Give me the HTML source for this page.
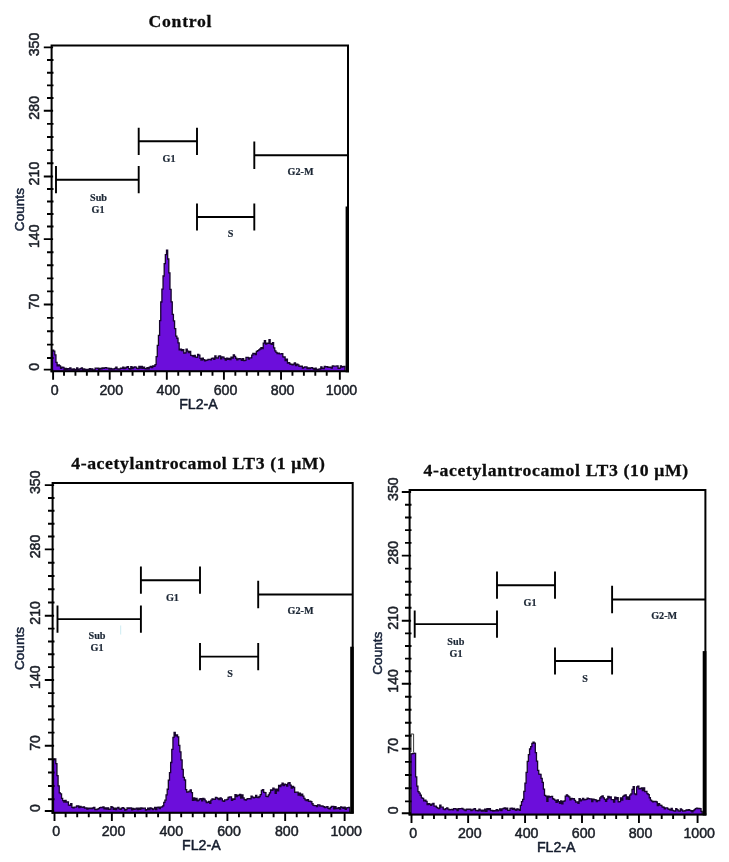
<!DOCTYPE html>
<html lang="en">
<head>
<meta charset="utf-8">
<title>Cell cycle histograms</title>
<style>
html,body{margin:0;padding:0;background:#fff;}
body{width:729px;height:862px;overflow:hidden;font-family:"Liberation Sans",sans-serif;}
svg{display:block;}
</style>
</head>
<body>
<svg width="729" height="862" viewBox="0 0 729 862" role="img" aria-label="Cell cycle histograms">
<defs><filter id="soft" x="0" y="0" width="100%" height="100%" filterUnits="objectBoundingBox" color-interpolation-filters="sRGB"><feGaussianBlur stdDeviation="0.45"/></filter></defs>
<rect width="729" height="862" fill="#fff"/>
<g filter="url(#soft)">
<rect width="729" height="862" fill="#fff"/>
<g id="p1">
<path d="M52.5 371.3L52.5 350.24L53.65 350.24L53.65 351.12L54.8 351.12L54.8 354.95L55.95 354.95L55.95 362.42L57.11 362.42L57.11 365.73L58.26 365.73L58.26 365.01L59.41 365.01L59.41 365.87L60.56 365.87L60.56 368.36L61.71 368.36L61.71 367.13L62.86 367.13L62.86 367.36L64.02 367.36L64.02 369.52L65.17 369.52L65.17 368.37L66.32 368.37L66.32 369.32L67.47 369.32L67.47 368.53L68.62 368.53L68.62 368.98L69.77 368.98L69.77 367.9L70.93 367.9L70.93 369.1L72.08 369.1L72.08 369.71L73.23 369.71L73.23 368.98L74.38 368.98L74.38 369.55L75.53 369.55L75.53 369.39L76.68 369.39L76.68 368.01L77.83 368.01L77.83 369.59L78.99 369.59L78.99 369.21L80.14 369.21L80.14 368.55L81.29 368.55L81.29 367.93L82.44 367.93L82.44 369.83L83.59 369.83L83.59 368.94L84.74 368.94L84.74 369.5L85.9 369.5L85.9 369.86L87.05 369.86L87.05 369.49L88.2 369.49L88.2 369.96L89.35 369.96L89.35 368.76L90.5 368.76L90.5 369.68L91.65 369.68L91.65 368.87L92.81 368.87L92.81 369.99L93.96 369.99L93.96 369.86L95.11 369.86L95.11 368.08L96.26 368.08L96.26 368.17L97.41 368.17L97.41 368.24L98.56 368.24L98.56 369.85L99.71 369.85L99.71 368.48L100.87 368.48L100.87 368.81L102.02 368.81L102.02 367.89L103.17 367.89L103.17 368.27L104.32 368.27L104.32 367.84L105.47 367.84L105.47 367.62L106.62 367.62L106.62 368.2L107.78 368.2L107.78 368.19L108.93 368.19L108.93 368.99L110.08 368.99L110.08 368.42L111.23 368.42L111.23 369.04L112.38 369.04L112.38 368.84L113.53 368.84L113.53 369.17L114.69 369.17L114.69 368.35L115.84 368.35L115.84 367.05L116.99 367.05L116.99 368.81L118.14 368.81L118.14 369.07L119.29 369.07L119.29 368.91L120.44 368.91L120.44 368.04L121.59 368.04L121.59 368.4L122.75 368.4L122.75 367.1L123.9 367.1L123.9 368.68L125.05 368.68L125.05 368.01L126.2 368.01L126.2 367.26L127.35 367.26L127.35 366.68L128.5 366.68L128.5 368.7L129.66 368.7L129.66 369.04L130.81 369.04L130.81 366.71L131.96 366.71L131.96 368.53L133.11 368.53L133.11 367.52L134.26 367.52L134.26 366.83L135.41 366.83L135.41 367.19L136.56 367.19L136.56 368.41L137.72 368.41L137.72 368.67L138.87 368.67L138.87 366.51L140.02 366.51L140.02 367.98L141.17 367.98L141.17 366.49L142.32 366.49L142.32 368.23L143.47 368.23L143.47 367.21L144.63 367.21L144.63 368.64L145.78 368.64L145.78 368.89L146.93 368.89L146.93 367.64L148.08 367.64L148.08 368.91L149.23 368.91L149.23 367.1L150.38 367.1L150.38 366.37L151.54 366.37L151.54 367.63L152.69 367.63L152.69 365.97L153.84 365.97L153.84 366.28L154.99 366.28L154.99 364.66L156.14 364.66L156.14 356.54L157.29 356.54L157.29 345.42L158.44 345.42L158.44 335.47L159.6 335.47L159.6 320.58L160.75 320.58L160.75 302.02L161.9 302.02L161.9 289.12L163.05 289.12L163.05 275.99L164.2 275.99L164.2 263.62L165.35 263.62L165.35 254.67L166.51 254.67L166.51 250.18L167.66 250.18L167.66 259.01L168.81 259.01L168.81 272.78L169.96 272.78L169.96 289.31L171.11 289.31L171.11 301.83L172.26 301.83L172.26 314.43L173.42 314.43L173.42 320.9L174.57 320.9L174.57 328.59L175.72 328.59L175.72 336.06L176.87 336.06L176.87 338.24L178.02 338.24L178.02 342.95L179.17 342.95L179.17 349.89L180.32 349.89L180.32 349.06L181.48 349.06L181.48 350.68L182.63 350.68L182.63 349.65L183.78 349.65L183.78 353.06L184.93 353.06L184.93 352.86L186.08 352.86L186.08 349.17L187.23 349.17L187.23 351.19L188.39 351.19L188.39 352.65L189.54 352.65L189.54 351.42L190.69 351.42L190.69 355.37L191.84 355.37L191.84 355.6L192.99 355.6L192.99 356.66L194.14 356.66L194.14 355.4L195.3 355.4L195.3 357.05L196.45 357.05L196.45 357.32L197.6 357.32L197.6 354.42L198.75 354.42L198.75 355.1L199.9 355.1L199.9 358.36L201.05 358.36L201.05 360.21L202.2 360.21L202.2 358.06L203.36 358.06L203.36 359.57L204.51 359.57L204.51 360.79L205.66 360.79L205.66 360.26L206.81 360.26L206.81 360.04L207.96 360.04L207.96 359.47L209.11 359.47L209.11 359.3L210.27 359.3L210.27 359.81L211.42 359.81L211.42 358.28L212.57 358.28L212.57 358.2L213.72 358.2L213.72 359.42L214.87 359.42L214.87 356.02L216.02 356.02L216.02 357.86L217.18 357.86L217.18 358.18L218.33 358.18L218.33 356.03L219.48 356.03L219.48 356.02L220.63 356.02L220.63 358.83L221.78 358.83L221.78 356.93L222.93 356.93L222.93 357.15L224.08 357.15L224.08 358.56L225.24 358.56L225.24 360L226.39 360L226.39 358.09L227.54 358.09L227.54 359.23L228.69 359.23L228.69 358.41L229.84 358.41L229.84 359.56L230.99 359.56L230.99 357.1L232.15 357.1L232.15 358.01L233.3 358.01L233.3 354.87L234.45 354.87L234.45 356.28L235.6 356.28L235.6 358.26L236.75 358.26L236.75 359.88L237.9 359.88L237.9 358.81L239.06 358.81L239.06 358.63L240.21 358.63L240.21 358.94L241.36 358.94L241.36 360.31L242.51 360.31L242.51 358.64L243.66 358.64L243.66 360.66L244.81 360.66L244.81 360.43L245.96 360.43L245.96 357.47L247.12 357.47L247.12 357.46L248.27 357.46L248.27 359.22L249.42 359.22L249.42 357.85L250.57 357.85L250.57 357.84L251.72 357.84L251.72 355.17L252.87 355.17L252.87 353.5L254.03 353.5L254.03 353.41L255.18 353.41L255.18 354.69L256.33 354.69L256.33 351.29L257.48 351.29L257.48 350.63L258.63 350.63L258.63 349.97L259.78 349.97L259.78 348.98L260.94 348.98L260.94 347.57L262.09 347.57L262.09 348.64L263.24 348.64L263.24 343.06L264.39 343.06L264.39 340.62L265.54 340.62L265.54 344.22L266.69 344.22L266.69 343.19L267.84 343.19L267.84 343.29L269 343.29L269 339.64L270.15 339.64L270.15 343.57L271.3 343.57L271.3 344.47L272.45 344.47L272.45 342.6L273.6 342.6L273.6 347.9L274.75 347.9L274.75 350.83L275.91 350.83L275.91 352.47L277.06 352.47L277.06 353.72L278.21 353.72L278.21 353.15L279.36 353.15L279.36 353.85L280.51 353.85L280.51 353.82L281.66 353.82L281.66 353.6L282.81 353.6L282.81 356.81L283.97 356.81L283.97 357.01L285.12 357.01L285.12 360.53L286.27 360.53L286.27 359.06L287.42 359.06L287.42 363L288.57 363L288.57 362.71L289.72 362.71L289.72 363.98L290.88 363.98L290.88 364.34L292.03 364.34L292.03 364.81L293.18 364.81L293.18 364.21L294.33 364.21L294.33 362.88L295.48 362.88L295.48 365.68L296.63 365.68L296.63 364.23L297.79 364.23L297.79 364.95L298.94 364.95L298.94 366.35L300.09 366.35L300.09 366.26L301.24 366.26L301.24 366.26L302.39 366.26L302.39 368.04L303.54 368.04L303.54 367.44L304.69 367.44L304.69 366.96L305.85 366.96L305.85 366.88L307 366.88L307 368.63L308.15 368.63L308.15 367.79L309.3 367.79L309.3 368.72L310.45 368.72L310.45 367.79L311.6 367.79L311.6 367.58L312.76 367.58L312.76 368.56L313.91 368.56L313.91 369.39L315.06 369.39L315.06 368.03L316.21 368.03L316.21 369.35L317.36 369.35L317.36 369.53L318.51 369.53L318.51 369.11L319.67 369.11L319.67 369.02L320.82 369.02L320.82 366.84L321.97 366.84L321.97 368.26L323.12 368.26L323.12 368.72L324.27 368.72L324.27 366.46L325.42 366.46L325.42 366.89L326.57 366.89L326.57 366.77L327.73 366.77L327.73 367.44L328.88 367.44L328.88 367.13L330.03 367.13L330.03 367.24L331.18 367.24L331.18 368.03L332.33 368.03L332.33 365.93L333.48 365.93L333.48 366.04L334.64 366.04L334.64 366.21L335.79 366.21L335.79 366.17L336.94 366.17L336.94 365.99L338.09 365.99L338.09 368.43L339.24 368.43L339.24 368.08L340.39 368.08L340.39 365.96L341.55 365.96L341.55 367.07L342.7 367.07L342.7 366.53L343.85 366.53L343.85 366.5L345 366.5L345 371.3Z" fill="#6c0edb" stroke="#16052c" stroke-width="1.3" stroke-linejoin="miter"/>
<g stroke="#000" fill="none" stroke-width="2" stroke-linecap="butt">
<path d="M51.6 372.3V45.6H348V371.3"/>
<path d="M50.6 371.3H349"/>
</g>
<rect x="345.6" y="206.5" width="3.4" height="165.8" fill="#000"/>
<path d="M43.8 47.4H53.1M43.8 110.7H53.1M43.8 176.45H53.1M43.8 239.1H53.1M43.8 304.5H53.1M43.8 369.6H53.1M47 60.06H53.5M47 72.72H53.5M47 85.38H53.5M47 98.04H53.5M47 123.85H53.5M47 137H53.5M47 150.15H53.5M47 163.3H53.5M47 188.98H53.5M47 201.51H53.5M47 214.04H53.5M47 226.57H53.5M47 252.18H53.5M47 265.26H53.5M47 278.34H53.5M47 291.42H53.5M47 317.86H53.5M47 331.22H53.5M47 344.58H53.5M47 357.94H53.5" stroke="#000" stroke-width="1.9" fill="none"/>
<path d="M53.1 371.3V379.7M64.02 371.3V375.8M75.44 371.3V375.8M86.86 371.3V375.8M98.29 371.3V375.8M109.71 371.3V379.7M121.13 371.3V375.8M132.55 371.3V375.8M143.97 371.3V375.8M155.39 371.3V375.8M166.82 371.3V379.7M178.24 371.3V375.8M189.66 371.3V375.8M201.08 371.3V375.8M212.5 371.3V375.8M223.92 371.3V379.7M235.35 371.3V375.8M246.77 371.3V375.8M258.19 371.3V375.8M269.61 371.3V375.8M281.03 371.3V379.7M292.45 371.3V375.8M303.88 371.3V375.8M315.3 371.3V375.8M326.72 371.3V375.8M339.84 371.3V379.7" stroke="#000" stroke-width="1.9" fill="none"/>
<path d="M56 179.7H138.7M56 166.1V193.3M138.7 166.1V193.3M138.7 141.3H197M138.7 127.7V154.9M197 127.7V154.9M197 217H254.3M197 203.4V230.6M254.3 203.4V230.6M253.5 155.3H348M254.3 141.5V169.1" stroke="#000" stroke-width="1.9" fill="none"/>
<g font-family="'Liberation Serif', serif" font-weight="bold" font-size="10.2" fill="#1b2634" stroke="#1b2634" stroke-width="0.2" text-anchor="middle">
<text x="98.5" y="201">Sub</text>
<text x="98" y="212.5">G1</text>
<text x="169" y="162">G1</text>
<text x="230.5" y="236.6">S</text>
<text x="300.6" y="175.2">G2-M</text>
</g>
<g font-family="'Liberation Sans', sans-serif" font-size="14.2" fill="#1b1f27" stroke="#1b1f27" stroke-width="0.5" stroke-linejoin="round" text-anchor="middle">
<text x="54.7" y="395.1">0</text>
<text x="111.31" y="395.1">200</text>
<text x="168.42" y="395.1">400</text>
<text x="225.52" y="395.1">600</text>
<text x="282.63" y="395.1">800</text>
<text x="341.44" y="395.1">1000</text>
<text x="198.5" y="408.6" font-size="14.2" fill="#151d2e" stroke="#151d2e">FL2-A</text>
<text transform="translate(39.3 44.5) rotate(-90)">350</text>
<text transform="translate(39.3 107.8) rotate(-90)">280</text>
<text transform="translate(39.3 173.55) rotate(-90)">210</text>
<text transform="translate(39.3 236.2) rotate(-90)">140</text>
<text transform="translate(39.3 301.6) rotate(-90)">70</text>
<text transform="translate(39.3 366.7) rotate(-90)">0</text>
<text transform="translate(23.9 209.6) rotate(-90)" font-size="13.6" fill="#172238" stroke="#172238">Counts</text>
</g>
<text x="148.5" y="26.6" font-family="'Liberation Serif', serif" font-weight="bold" font-size="17.7" fill="#0c0c0c" stroke="#0c0c0c" stroke-width="0.3" textLength="63" lengthAdjust="spacing">Control</text>
</g>
<g id="p2">
<path d="M53.5 812.7L53.5 759.54L54.65 759.54L54.65 758.88L55.8 758.88L55.8 763.65L56.95 763.65L56.95 775.6L58.09 775.6L58.09 785.83L59.24 785.83L59.24 792.78L60.39 792.78L60.39 793.97L61.54 793.97L61.54 798.47L62.69 798.47L62.69 800.71L63.84 800.71L63.84 802.19L64.98 802.19L64.98 800.39L66.13 800.39L66.13 802.06L67.28 802.06L67.28 801.98L68.43 801.98L68.43 805.09L69.58 805.09L69.58 805.26L70.73 805.26L70.73 803.67L71.88 803.67L71.88 807.32L73.02 807.32L73.02 807.77L74.17 807.77L74.17 807.03L75.32 807.03L75.32 807.14L76.47 807.14L76.47 806L77.62 806L77.62 805.82L78.77 805.82L78.77 807.58L79.91 807.58L79.91 806.46L81.06 806.46L81.06 807.09L82.21 807.09L82.21 807.38L83.36 807.38L83.36 806.78L84.51 806.78L84.51 808L85.66 808L85.66 807.93L86.81 807.93L86.81 809.06L87.95 809.06L87.95 808.15L89.1 808.15L89.1 808.49L90.25 808.49L90.25 808.1L91.4 808.1L91.4 808.56L92.55 808.56L92.55 807.98L93.7 807.98L93.7 807.48L94.84 807.48L94.84 809.49L95.99 809.49L95.99 809.49L97.14 809.49L97.14 809.05L98.29 809.05L98.29 808.68L99.44 808.68L99.44 807.58L100.59 807.58L100.59 807.34L101.73 807.34L101.73 807.51L102.88 807.51L102.88 806.9L104.03 806.9L104.03 808.85L105.18 808.85L105.18 807.82L106.33 807.82L106.33 809.07L107.48 809.07L107.48 807.78L108.63 807.78L108.63 809.38L109.77 809.38L109.77 809.07L110.92 809.07L110.92 806.74L112.07 806.74L112.07 807.38L113.22 807.38L113.22 809.39L114.37 809.39L114.37 808.22L115.52 808.22L115.52 809.69L116.66 809.69L116.66 808.14L117.81 808.14L117.81 807.32L118.96 807.32L118.96 808.89L120.11 808.89L120.11 809.35L121.26 809.35L121.26 808.03L122.41 808.03L122.41 807.6L123.56 807.6L123.56 808.32L124.7 808.32L124.7 810.06L125.85 810.06L125.85 809.56L127 809.56L127 807.93L128.15 807.93L128.15 808.33L129.3 808.33L129.3 808.01L130.45 808.01L130.45 807.97L131.59 807.97L131.59 809.93L132.74 809.93L132.74 808.35L133.89 808.35L133.89 809.3L135.04 809.3L135.04 808.97L136.19 808.97L136.19 808.27L137.34 808.27L137.34 809.64L138.49 809.64L138.49 808.03L139.63 808.03L139.63 809.34L140.78 809.34L140.78 807.92L141.93 807.92L141.93 808.68L143.08 808.68L143.08 808.09L144.23 808.09L144.23 808.21L145.38 808.21L145.38 810.03L146.52 810.03L146.52 809.55L147.67 809.55L147.67 808.18L148.82 808.18L148.82 809.7L149.97 809.7L149.97 807.85L151.12 807.85L151.12 808.31L152.27 808.31L152.27 809.52L153.42 809.52L153.42 808.91L154.56 808.91L154.56 807.34L155.71 807.34L155.71 809.62L156.86 809.62L156.86 807.28L158.01 807.28L158.01 807.23L159.16 807.23L159.16 808.52L160.31 808.52L160.31 807.07L161.45 807.07L161.45 806.79L162.6 806.79L162.6 805.95L163.75 805.95L163.75 802.3L164.9 802.3L164.9 800.2L166.05 800.2L166.05 794.86L167.2 794.86L167.2 789.24L168.34 789.24L168.34 780.09L169.49 780.09L169.49 772.58L170.64 772.58L170.64 762.51L171.79 762.51L171.79 749.33L172.94 749.33L172.94 737.45L174.09 737.45L174.09 732.38L175.24 732.38L175.24 735.88L176.38 735.88L176.38 734.89L177.53 734.89L177.53 736.8L178.68 736.8L178.68 745.42L179.83 745.42L179.83 751.86L180.98 751.86L180.98 759.88L182.13 759.88L182.13 769.45L183.27 769.45L183.27 777.32L184.42 777.32L184.42 780.02L185.57 780.02L185.57 789.71L186.72 789.71L186.72 792.02L187.87 792.02L187.87 791.88L189.02 791.88L189.02 791.18L190.17 791.18L190.17 789.84L191.31 789.84L191.31 792.56L192.46 792.56L192.46 800.31L193.61 800.31L193.61 797.97L194.76 797.97L194.76 800.05L195.91 800.05L195.91 798.39L197.06 798.39L197.06 800.86L198.2 800.86L198.2 800.08L199.35 800.08L199.35 798.99L200.5 798.99L200.5 798.65L201.65 798.65L201.65 800.96L202.8 800.96L202.8 798.5L203.95 798.5L203.95 799.27L205.1 799.27L205.1 800.95L206.24 800.95L206.24 802.62L207.39 802.62L207.39 802.24L208.54 802.24L208.54 801.43L209.69 801.43L209.69 803.3L210.84 803.3L210.84 800.06L211.99 800.06L211.99 798.79L213.13 798.79L213.13 799.24L214.28 799.24L214.28 799.41L215.43 799.41L215.43 797.41L216.58 797.41L216.58 797.92L217.73 797.92L217.73 798.74L218.88 798.74L218.88 799.6L220.03 799.6L220.03 797.85L221.17 797.85L221.17 798.82L222.32 798.82L222.32 800.96L223.47 800.96L223.47 801.24L224.62 801.24L224.62 799.85L225.77 799.85L225.77 799.91L226.92 799.91L226.92 799.39L228.06 799.39L228.06 797.48L229.21 797.48L229.21 796.97L230.36 796.97L230.36 796.81L231.51 796.81L231.51 800.42L232.66 800.42L232.66 799.02L233.81 799.02L233.81 799.43L234.96 799.43L234.96 794.63L236.1 794.63L236.1 796.6L237.25 796.6L237.25 795.19L238.4 795.19L238.4 795.6L239.55 795.6L239.55 794.28L240.7 794.28L240.7 798.18L241.85 798.18L241.85 794.98L242.99 794.98L242.99 797.89L244.14 797.89L244.14 799.55L245.29 799.55L245.29 800.08L246.44 800.08L246.44 799.06L247.59 799.06L247.59 798.59L248.74 798.59L248.74 798.63L249.88 798.63L249.88 798.83L251.03 798.83L251.03 796.04L252.18 796.04L252.18 797.16L253.33 797.16L253.33 797.78L254.48 797.78L254.48 797.37L255.63 797.37L255.63 795.46L256.78 795.46L256.78 797.23L257.92 797.23L257.92 797.67L259.07 797.67L259.07 796.5L260.22 796.5L260.22 794.54L261.37 794.54L261.37 790.51L262.52 790.51L262.52 789.57L263.67 789.57L263.67 792.37L264.81 792.37L264.81 792.61L265.96 792.61L265.96 796.31L267.11 796.31L267.11 796.63L268.26 796.63L268.26 794.82L269.41 794.82L269.41 792.8L270.56 792.8L270.56 789.81L271.71 789.81L271.71 790.23L272.85 790.23L272.85 788.12L274 788.12L274 789.11L275.15 789.11L275.15 793.31L276.3 793.31L276.3 789.22L277.45 789.22L277.45 790.82L278.6 790.82L278.6 785.42L279.74 785.42L279.74 786.7L280.89 786.7L280.89 784.82L282.04 784.82L282.04 783.22L283.19 783.22L283.19 785.53L284.34 785.53L284.34 784.2L285.49 784.2L285.49 784.61L286.64 784.61L286.64 786.06L287.78 786.06L287.78 783.09L288.93 783.09L288.93 782.66L290.08 782.66L290.08 785.11L291.23 785.11L291.23 787.98L292.38 787.98L292.38 786.5L293.53 786.5L293.53 787.49L294.67 787.49L294.67 792.31L295.82 792.31L295.82 792.2L296.97 792.2L296.97 792.22L298.12 792.22L298.12 795.12L299.27 795.12L299.27 793.25L300.42 793.25L300.42 795.58L301.57 795.58L301.57 794.25L302.71 794.25L302.71 796.07L303.86 796.07L303.86 798.47L305.01 798.47L305.01 799.8L306.16 799.8L306.16 800.59L307.31 800.59L307.31 799.53L308.46 799.53L308.46 801.28L309.6 801.28L309.6 801.23L310.75 801.23L310.75 801.56L311.9 801.56L311.9 803.74L313.05 803.74L313.05 805.29L314.2 805.29L314.2 805.68L315.35 805.68L315.35 805.57L316.49 805.57L316.49 806.71L317.64 806.71L317.64 804.87L318.79 804.87L318.79 804.91L319.94 804.91L319.94 806.17L321.09 806.17L321.09 806.01L322.24 806.01L322.24 806.08L323.39 806.08L323.39 806.77L324.53 806.77L324.53 807.5L325.68 807.5L325.68 807.2L326.83 807.2L326.83 806.76L327.98 806.76L327.98 808.4L329.13 808.4L329.13 808.9L330.28 808.9L330.28 807.45L331.42 807.45L331.42 806.45L332.57 806.45L332.57 806.43L333.72 806.43L333.72 808.92L334.87 808.92L334.87 806.64L336.02 806.64L336.02 808.58L337.17 808.58L337.17 808.26L338.32 808.26L338.32 807.58L339.46 807.58L339.46 808.99L340.61 808.99L340.61 806.91L341.76 806.91L341.76 807.3L342.91 807.3L342.91 808.24L344.06 808.24L344.06 807.12L345.21 807.12L345.21 809.38L346.35 809.38L346.35 807.83L347.5 807.83L347.5 807.64L348.65 807.64L348.65 807.45L349.8 807.45L349.8 812.7Z" fill="#6c0edb" stroke="#16052c" stroke-width="1.3" stroke-linejoin="miter"/>
<g stroke="#000" fill="none" stroke-width="2" stroke-linecap="butt">
<path d="M52.6 813.7V483.1H352.7V812.7"/>
<path d="M51.6 812.7H353.7"/>
</g>
<rect x="350.2" y="646.7" width="3.5" height="167" fill="#000"/>
<path d="M44.8 485.1H54.1M44.8 549.4H54.1M44.8 615.8H54.1M44.8 680H54.1M44.8 745.8H54.1M44.8 811H54.1M48 497.96H54.5M48 510.82H54.5M48 523.68H54.5M48 536.54H54.5M48 562.68H54.5M48 575.96H54.5M48 589.24H54.5M48 602.52H54.5M48 628.64H54.5M48 641.48H54.5M48 654.32H54.5M48 667.16H54.5M48 693.16H54.5M48 706.32H54.5M48 719.48H54.5M48 732.64H54.5M48 759.18H54.5M48 772.56H54.5M48 785.94H54.5M48 799.32H54.5" stroke="#000" stroke-width="1.9" fill="none"/>
<path d="M54.5 812.7V821.1M65.65 812.7V817.2M77.21 812.7V817.2M88.76 812.7V817.2M100.31 812.7V817.2M111.87 812.7V821.1M123.42 812.7V817.2M134.97 812.7V817.2M146.53 812.7V817.2M158.08 812.7V817.2M169.63 812.7V821.1M181.19 812.7V817.2M192.74 812.7V817.2M204.29 812.7V817.2M215.84 812.7V817.2M227.4 812.7V821.1M238.95 812.7V817.2M250.5 812.7V817.2M262.06 812.7V817.2M273.61 812.7V817.2M285.16 812.7V821.1M296.72 812.7V817.2M308.27 812.7V817.2M319.82 812.7V817.2M331.38 812.7V817.2M344.63 812.7V821.1" stroke="#000" stroke-width="1.9" fill="none"/>
<path d="M57.5 619.1H140.9M57.5 605.5V632.7M140.9 605.5V632.7M140.9 580.2H200M140.9 566.6V593.8M200 566.6V593.8M200 656.6H258.2M200 643V670.2M258.2 643V670.2M257.4 594.5H352.7M258.2 580.7V608.3" stroke="#000" stroke-width="1.9" fill="none"/>
<g font-family="'Liberation Serif', serif" font-weight="bold" font-size="10.2" fill="#1b2634" stroke="#1b2634" stroke-width="0.2" text-anchor="middle">
<text x="97" y="638.5">Sub</text>
<text x="97.1" y="650.6">G1</text>
<text x="172.4" y="601.3">G1</text>
<text x="230" y="676.6">S</text>
<text x="300.6" y="614.1">G2-M</text>
</g>
<g font-family="'Liberation Sans', sans-serif" font-size="14.2" fill="#1b1f27" stroke="#1b1f27" stroke-width="0.5" stroke-linejoin="round" text-anchor="middle">
<text x="56.1" y="836.1">0</text>
<text x="113.47" y="836.1">200</text>
<text x="171.23" y="836.1">400</text>
<text x="229" y="836.1">600</text>
<text x="286.76" y="836.1">800</text>
<text x="346.23" y="836.1">1000</text>
<text x="201.3" y="849.7" font-size="14.2" fill="#151d2e" stroke="#151d2e">FL2-A</text>
<text transform="translate(40.3 482.2) rotate(-90)">350</text>
<text transform="translate(40.3 546.5) rotate(-90)">280</text>
<text transform="translate(40.3 612.9) rotate(-90)">210</text>
<text transform="translate(40.3 677.1) rotate(-90)">140</text>
<text transform="translate(40.3 742.9) rotate(-90)">70</text>
<text transform="translate(40.3 808.1) rotate(-90)">0</text>
<text transform="translate(24.3 648.5) rotate(-90)" font-size="13.6" fill="#172238" stroke="#172238">Counts</text>
</g>
<text x="71.2" y="469" font-family="'Liberation Serif', serif" font-weight="bold" font-size="17.7" fill="#0c0c0c" stroke="#0c0c0c" stroke-width="0.3" textLength="253.8" lengthAdjust="spacing">4-acetylantrocamol LT3 (1 μM)</text>
</g>
<g id="p3">
<path d="M411 814.6L411 753.91L412.15 753.91L412.15 753.7L413.3 753.7L413.3 753.21L414.45 753.21L414.45 753.31L415.6 753.31L415.6 776.9L416.75 776.9L416.75 786.08L417.91 786.08L417.91 791.6L419.06 791.6L419.06 793.15L420.21 793.15L420.21 795.23L421.36 795.23L421.36 797.84L422.51 797.84L422.51 798.34L423.66 798.34L423.66 800.74L424.81 800.74L424.81 800.04L425.96 800.04L425.96 801.34L427.11 801.34L427.11 804.55L428.26 804.55L428.26 803.69L429.42 803.69L429.42 804.25L430.57 804.25L430.57 805.29L431.72 805.29L431.72 804.14L432.87 804.14L432.87 803.28L434.02 803.28L434.02 806.12L435.17 806.12L435.17 806.08L436.32 806.08L436.32 807.31L437.47 807.31L437.47 808.18L438.62 808.18L438.62 808.6L439.77 808.6L439.77 805.04L440.93 805.04L440.93 807.13L442.08 807.13L442.08 807.14L443.23 807.14L443.23 809.11L444.38 809.11L444.38 809.54L445.53 809.54L445.53 808.57L446.68 808.57L446.68 807.96L447.83 807.96L447.83 809.17L448.98 809.17L448.98 809.95L450.13 809.95L450.13 809.64L451.28 809.64L451.28 809.28L452.44 809.28L452.44 809.91L453.59 809.91L453.59 808.64L454.74 808.64L454.74 808.68L455.89 808.68L455.89 809.11L457.04 809.11L457.04 810.54L458.19 810.54L458.19 808.77L459.34 808.77L459.34 808.56L460.49 808.56L460.49 808.53L461.64 808.53L461.64 808.37L462.79 808.37L462.79 809.06L463.95 809.06L463.95 809.92L465.1 809.92L465.1 810.65L466.25 810.65L466.25 809.26L467.4 809.26L467.4 809.39L468.55 809.39L468.55 809.17L469.7 809.17L469.7 809.23L470.85 809.23L470.85 810.59L472 810.59L472 809.95L473.15 809.95L473.15 809.14L474.3 809.14L474.3 808.73L475.46 808.73L475.46 810.66L476.61 810.66L476.61 810.46L477.76 810.46L477.76 810.81L478.91 810.81L478.91 809.16L480.06 809.16L480.06 810.04L481.21 810.04L481.21 811.11L482.36 811.11L482.36 810.2L483.51 810.2L483.51 811.21L484.66 811.21L484.66 809.03L485.81 809.03L485.81 811.32L486.97 811.32L486.97 808.75L488.12 808.75L488.12 809.72L489.27 809.72L489.27 808.55L490.42 808.55L490.42 810.71L491.57 810.71L491.57 810.31L492.72 810.31L492.72 811.07L493.87 811.07L493.87 810.54L495.02 810.54L495.02 810.9L496.17 810.9L496.17 809.66L497.32 809.66L497.32 810.9L498.48 810.9L498.48 810.15L499.63 810.15L499.63 808.92L500.78 808.92L500.78 810.7L501.93 810.7L501.93 808.89L503.08 808.89L503.08 808.29L504.23 808.29L504.23 807.88L505.38 807.88L505.38 808.98L506.53 808.98L506.53 808.11L507.68 808.11L507.68 810.33L508.83 810.33L508.83 810.43L509.98 810.43L509.98 808.31L511.14 808.31L511.14 808.04L512.29 808.04L512.29 809.35L513.44 809.35L513.44 808.36L514.59 808.36L514.59 809.51L515.74 809.51L515.74 810.35L516.89 810.35L516.89 808.78L518.04 808.78L518.04 809.33L519.19 809.33L519.19 810.29L520.34 810.29L520.34 805.45L521.49 805.45L521.49 801.57L522.65 801.57L522.65 799.29L523.8 799.29L523.8 791.42L524.95 791.42L524.95 783.03L526.1 783.03L526.1 772.41L527.25 772.41L527.25 761.46L528.4 761.46L528.4 754.69L529.55 754.69L529.55 749.02L530.7 749.02L530.7 746.61L531.85 746.61L531.85 743.42L533 743.42L533 742.13L534.16 742.13L534.16 743.05L535.31 743.05L535.31 752.53L536.46 752.53L536.46 761.11L537.61 761.11L537.61 770.41L538.76 770.41L538.76 774.21L539.91 774.21L539.91 774.47L541.06 774.47L541.06 778.33L542.21 778.33L542.21 782.39L543.36 782.39L543.36 789.03L544.51 789.03L544.51 795.38L545.67 795.38L545.67 796.03L546.82 796.03L546.82 801.29L547.97 801.29L547.97 796.17L549.12 796.17L549.12 796.98L550.27 796.98L550.27 796.67L551.42 796.67L551.42 796.29L552.57 796.29L552.57 798.75L553.72 798.75L553.72 799.36L554.87 799.36L554.87 800.28L556.02 800.28L556.02 802.24L557.18 802.24L557.18 799.96L558.33 799.96L558.33 801.58L559.48 801.58L559.48 803.33L560.63 803.33L560.63 800.92L561.78 800.92L561.78 803.91L562.93 803.91L562.93 801.43L564.08 801.43L564.08 800.83L565.23 800.83L565.23 796.09L566.38 796.09L566.38 794.79L567.53 794.79L567.53 796L568.69 796L568.69 796.89L569.84 796.89L569.84 799.89L570.99 799.89L570.99 798.41L572.14 798.41L572.14 798.81L573.29 798.81L573.29 798.7L574.44 798.7L574.44 800.44L575.59 800.44L575.59 801.99L576.74 801.99L576.74 802L577.89 802L577.89 803.24L579.04 803.24L579.04 798.76L580.2 798.76L580.2 800.94L581.35 800.94L581.35 799.8L582.5 799.8L582.5 798.38L583.65 798.38L583.65 799.78L584.8 799.78L584.8 799.52L585.95 799.52L585.95 799.4L587.1 799.4L587.1 798.24L588.25 798.24L588.25 798.55L589.4 798.55L589.4 798.84L590.55 798.84L590.55 798.78L591.71 798.78L591.71 801.71L592.86 801.71L592.86 799.24L594.01 799.24L594.01 799.57L595.16 799.57L595.16 799.85L596.31 799.85L596.31 801.65L597.46 801.65L597.46 800.38L598.61 800.38L598.61 800.72L599.76 800.72L599.76 798.01L600.91 798.01L600.91 796.65L602.06 796.65L602.06 795.89L603.22 795.89L603.22 797.79L604.37 797.79L604.37 799.32L605.52 799.32L605.52 801.39L606.67 801.39L606.67 799.01L607.82 799.01L607.82 796.38L608.97 796.38L608.97 797.88L610.12 797.88L610.12 797.01L611.27 797.01L611.27 799.57L612.42 799.57L612.42 799.66L613.57 799.66L613.57 802.01L614.72 802.01L614.72 797.14L615.88 797.14L615.88 799.2L617.03 799.2L617.03 797.66L618.18 797.66L618.18 801.92L619.33 801.92L619.33 801.56L620.48 801.56L620.48 798.01L621.63 798.01L621.63 800.01L622.78 800.01L622.78 796.39L623.93 796.39L623.93 795.5L625.08 795.5L625.08 794.84L626.23 794.84L626.23 799.12L627.39 799.12L627.39 796.98L628.54 796.98L628.54 799.3L629.69 799.3L629.69 795.18L630.84 795.18L630.84 793.96L631.99 793.96L631.99 789.44L633.14 789.44L633.14 786.73L634.29 786.73L634.29 793.95L635.44 793.95L635.44 794.7L636.59 794.7L636.59 786.92L637.74 786.92L637.74 786.08L638.9 786.08L638.9 788.73L640.05 788.73L640.05 788.59L641.2 788.59L641.2 788.02L642.35 788.02L642.35 790.68L643.5 790.68L643.5 787.87L644.65 787.87L644.65 791.52L645.8 791.52L645.8 791.32L646.95 791.32L646.95 793.66L648.1 793.66L648.1 794.58L649.25 794.58L649.25 797.75L650.41 797.75L650.41 800.18L651.56 800.18L651.56 801.17L652.71 801.17L652.71 801.81L653.86 801.81L653.86 801.45L655.01 801.45L655.01 801.41L656.16 801.41L656.16 801.99L657.31 801.99L657.31 805.55L658.46 805.55L658.46 803.75L659.61 803.75L659.61 805.13L660.76 805.13L660.76 805.33L661.92 805.33L661.92 806.95L663.07 806.95L663.07 807.23L664.22 807.23L664.22 808.85L665.37 808.85L665.37 807.89L666.52 807.89L666.52 807.85L667.67 807.85L667.67 808.93L668.82 808.93L668.82 809.4L669.97 809.4L669.97 810.12L671.12 810.12L671.12 808.46L672.27 808.46L672.27 810.35L673.43 810.35L673.43 810.8L674.58 810.8L674.58 810.98L675.73 810.98L675.73 808.72L676.88 808.72L676.88 809.62L678.03 809.62L678.03 810.83L679.18 810.83L679.18 811.06L680.33 811.06L680.33 808.95L681.48 808.95L681.48 810.01L682.63 810.01L682.63 810.99L683.78 810.99L683.78 811.15L684.94 811.15L684.94 810.63L686.09 810.63L686.09 809.83L687.24 809.83L687.24 810.44L688.39 810.44L688.39 809.6L689.54 809.6L689.54 810.36L690.69 810.36L690.69 810.73L691.84 810.73L691.84 811.83L692.99 811.83L692.99 810.67L694.14 810.67L694.14 809.62L695.29 809.62L695.29 808.55L696.45 808.55L696.45 808.17L697.6 808.17L697.6 808.7L698.75 808.7L698.75 808.5L699.9 808.5L699.9 808.66L701.05 808.66L701.05 811.4L702.2 811.4L702.2 814.6Z" fill="#6c0edb" stroke="#16052c" stroke-width="1.3" stroke-linejoin="miter"/>
<path d="M411 752V734H413.6V752" fill="none" stroke="#3a3a3a" stroke-width="1"/>
<g stroke="#000" fill="none" stroke-width="2" stroke-linecap="butt">
<path d="M409.6 815.6V490H705.4V814.6"/>
<path d="M408.6 814.6H706.4"/>
</g>
<rect x="702.7" y="651.1" width="3.7" height="164.5" fill="#000"/>
<path d="M401.8 492H411.1M401.8 555.6H411.1M401.8 620.8H411.1M401.8 683.8H411.1M401.8 748.7H411.1M401.8 813.2H411.1M405 504.72H411.5M405 517.44H411.5M405 530.16H411.5M405 542.88H411.5M405 568.64H411.5M405 581.68H411.5M405 594.72H411.5M405 607.76H411.5M405 633.4H411.5M405 646H411.5M405 658.6H411.5M405 671.2H411.5M405 696.78H411.5M405 709.76H411.5M405 722.74H411.5M405 735.72H411.5M405 761.88H411.5M405 775.06H411.5M405 788.24H411.5M405 801.42H411.5" stroke="#000" stroke-width="1.9" fill="none"/>
<path d="M411.5 814.6V823M422.59 814.6V819.1M433.97 814.6V819.1M445.36 814.6V819.1M456.75 814.6V819.1M468.13 814.6V823M479.52 814.6V819.1M490.91 814.6V819.1M502.29 814.6V819.1M513.68 814.6V819.1M525.07 814.6V823M536.45 814.6V819.1M547.84 814.6V819.1M559.23 814.6V819.1M570.62 814.6V819.1M582 814.6V823M593.39 814.6V819.1M604.78 814.6V819.1M616.16 814.6V819.1M627.55 814.6V819.1M638.94 814.6V823M650.32 814.6V819.1M661.71 814.6V819.1M673.1 814.6V819.1M684.48 814.6V819.1M697.57 814.6V823" stroke="#000" stroke-width="1.9" fill="none"/>
<path d="M414.7 624.1H497M414.7 610.5V637.7M497 610.5V637.7M497 585.2H555M497 571.6V598.8M555 571.6V598.8M555 661H612.1M555 647.4V674.6M612.1 647.4V674.6M611.3 599.5H705.4M612.1 585.7V613.3" stroke="#000" stroke-width="1.9" fill="none"/>
<g font-family="'Liberation Serif', serif" font-weight="bold" font-size="10.2" fill="#1b2634" stroke="#1b2634" stroke-width="0.2" text-anchor="middle">
<text x="455.8" y="645">Sub</text>
<text x="456" y="657.4">G1</text>
<text x="530" y="605.5">G1</text>
<text x="585.2" y="681.8">S</text>
<text x="664.2" y="618.6">G2-M</text>
</g>
<g font-family="'Liberation Sans', sans-serif" font-size="14.2" fill="#1b1f27" stroke="#1b1f27" stroke-width="0.5" stroke-linejoin="round" text-anchor="middle">
<text x="413.1" y="837.9">0</text>
<text x="469.73" y="837.9">200</text>
<text x="526.67" y="837.9">400</text>
<text x="583.6" y="837.9">600</text>
<text x="640.54" y="837.9">800</text>
<text x="699.17" y="837.9">1000</text>
<text x="556.2" y="851.8" font-size="14.2" fill="#151d2e" stroke="#151d2e">FL2-A</text>
<text transform="translate(398 489.1) rotate(-90)">350</text>
<text transform="translate(398 552.7) rotate(-90)">280</text>
<text transform="translate(398 617.9) rotate(-90)">210</text>
<text transform="translate(398 680.9) rotate(-90)">140</text>
<text transform="translate(398 745.8) rotate(-90)">70</text>
<text transform="translate(398 810.3) rotate(-90)">0</text>
<text transform="translate(381.6 653.2) rotate(-90)" font-size="13.6" fill="#172238" stroke="#172238">Counts</text>
</g>
<text x="423.4" y="476.3" font-family="'Liberation Serif', serif" font-weight="bold" font-size="17.7" fill="#0c0c0c" stroke="#0c0c0c" stroke-width="0.3" textLength="264.8" lengthAdjust="spacing">4-acetylantrocamol LT3 (10 μM)</text>
</g>
<path d="M120.7 625.5V634.5" stroke="#bfe6ee" stroke-width="0.8"/>
</g>
</svg>
</body>
</html>
